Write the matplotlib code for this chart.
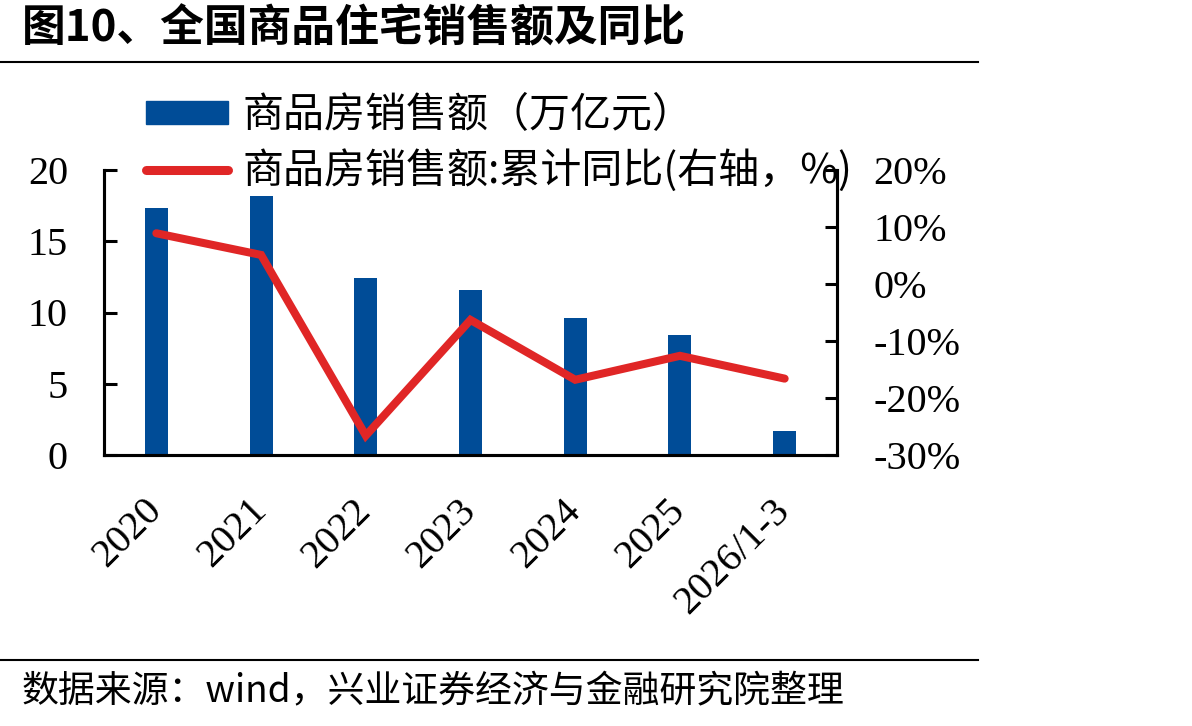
import matplotlib
matplotlib.use('Agg')
import matplotlib.pyplot as plt
from matplotlib.lines import Line2D
from matplotlib.patches import Patch
from matplotlib.font_manager import FontProperties

# --- Data ---
categories = ['2020', '2021', '2022', '2023', '2024', '2025', '2026/1-3']
sales = [17.3, 18.2, 12.4, 11.6, 9.6, 8.4, 1.7]          # 万亿元
yoy = [8.9, 5.1, -26.6, -6.3, -16.8, -12.6, -16.6]      # 累计同比, %
left_ticks = [0, 5, 10, 15, 20]
right_ticks = [-30, -20, -10, 0, 10, 20]

title = '图10、全国商品住宅销售额及同比'
source = '数据来源：wind，兴业证券经济与金融研究院整理'
bar_label = '商品房销售额（万亿元）'
line_label = '商品房销售额:累计同比(右轴，%)'

# --- Style ---
BLUE = '#004C97'
RED = '#E02626'
CJK = ['Noto Sans CJK SC', 'DejaVu Sans']
NUM = 'Liberation Serif'
FS = 29
W, H = 1192, 726

fig = plt.figure(figsize=(W / 100, H / 100), dpi=100)
ax = fig.add_axes([104 / W, 1 - 455 / H, (837 - 104) / W, (455 - 170) / H])
ax2 = ax.twinx()

x = list(range(len(categories)))
ax.bar(x, sales, width=0.22, color=BLUE)
ax2.plot(x, yoy, color=RED, lw=5.8, solid_capstyle='round', solid_joinstyle='miter')

ax.set_xlim(-0.5, len(categories) - 0.5)
ax.set_ylim(0, 20)
ax2.set_ylim(-30, 20)
ax.set_yticks(left_ticks)
ax.set_yticklabels([str(v) for v in left_ticks], fontfamily=NUM, fontsize=FS)
ax2.set_yticks(right_ticks)
ax2.set_yticklabels([f'{v}%' for v in right_ticks], fontfamily=NUM, fontsize=FS, ha='left')
ax.set_xticks(x)
ax.set_xticklabels(categories, fontfamily=NUM, fontsize=FS, rotation=45,
                   ha='right', va='center', rotation_mode='anchor')

for a in (ax, ax2):
    a.spines['top'].set_visible(False)
    for s in ('left', 'right', 'bottom'):
        a.spines[s].set_linewidth(2.2)
ax.tick_params(axis='y', direction='in', length=9, width=2.2, pad=26)
ax2.tick_params(axis='y', direction='in', length=9, width=2.2, pad=26)
ax.tick_params(axis='x', length=0, pad=36)

# legend
handles = [Patch(color=BLUE),
           Line2D([], [], color=RED, lw=6.5, solid_capstyle='round')]
fig.legend(handles, [bar_label, line_label], loc='upper left',
           bbox_to_anchor=(146 / W, 1 - 95 / H), frameon=False,
           prop=FontProperties(family=CJK, size=29.5),
           handlelength=2.0, handleheight=0.5, handletextpad=0.35,
           labelspacing=0.33, borderpad=0, borderaxespad=0)

# title, rules and source
fig.text(22 / W, 1 - 28 / H, title, fontfamily=CJK, fontsize=31.5, fontweight='bold',
         va='center', ha='left')
fig.add_artist(Line2D([0, 978 / W], [1 - 62 / H, 1 - 62 / H], color='black', lw=1.5))
fig.add_artist(Line2D([0, 978 / W], [1 - 660 / H, 1 - 660 / H], color='black', lw=1.5))
fig.text(22 / W, 1 - 692 / H, source, fontfamily=CJK, fontsize=26.6, va='center', ha='left')

fig.savefig('out.png', dpi=100)
